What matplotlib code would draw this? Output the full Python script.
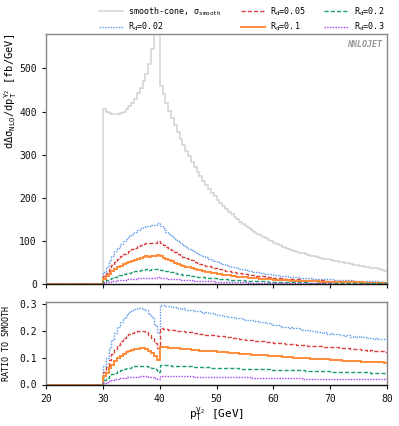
import numpy as np
import matplotlib
matplotlib.use("Agg")
import matplotlib.pyplot as plt

plt.rcParams['font.family'] = ['DejaVu Sans Mono']
plt.rcParams['mathtext.fontset'] = 'custom'
plt.rcParams['mathtext.rm'] = 'DejaVu Sans Mono'
plt.rcParams['mathtext.it'] = 'DejaVu Sans Mono:italic'
plt.rcParams['mathtext.default'] = 'regular'

# ---- data (0.5 GeV bins from 30 to 80; zero below 30) ----
bin_width = 0.5
pt_low, pt_start, pt_high = 20.0, 30.0, 80.0

smooth = [
    405, 400, 397, 395, 394, 395, 397, 400, 405, 412,
    420, 430, 442, 455, 470, 488, 510, 545, 620, 740,
    460, 440, 420, 402, 385, 368, 352, 337, 322, 309,
    296, 284, 272, 261, 250, 240, 230, 221, 212, 204,
    196, 188, 181, 174, 168, 162, 156, 150, 145, 140,
    134, 130, 125, 121, 117, 113, 109, 106, 102, 99,
    95, 92, 90, 87, 84, 82, 79, 77, 75, 73,
    71, 69, 67, 65, 64, 62, 61, 59, 58, 57,
    56, 54, 53, 51, 50, 49, 48, 46, 45, 44,
    42, 41, 40, 39, 38, 37, 36, 34, 33, 31,
]

ratio_rd002 = [
    0.070, 0.100, 0.135, 0.165, 0.192, 0.214, 0.232, 0.247, 0.259, 0.268,
    0.275, 0.279, 0.282, 0.283, 0.281, 0.277, 0.262, 0.250, 0.222, 0.190,
    0.295, 0.294, 0.290, 0.290, 0.287, 0.286, 0.285, 0.281, 0.282, 0.278,
    0.277, 0.276, 0.273, 0.272, 0.271, 0.267, 0.268, 0.264, 0.264, 0.261,
    0.258, 0.257, 0.254, 0.254, 0.251, 0.250, 0.247, 0.246, 0.246, 0.242,
    0.241, 0.238, 0.238, 0.235, 0.234, 0.231, 0.232, 0.227, 0.227, 0.224,
    0.221, 0.219, 0.218, 0.215, 0.215, 0.211, 0.212, 0.208, 0.208, 0.205,
    0.204, 0.201, 0.201, 0.198, 0.198, 0.195, 0.195, 0.192, 0.193, 0.189,
    0.190, 0.186, 0.187, 0.184, 0.184, 0.181, 0.182, 0.178, 0.179, 0.176,
    0.179, 0.175, 0.175, 0.172, 0.173, 0.170, 0.171, 0.168, 0.170, 0.167,
]

ratio_rd005 = [
    0.045, 0.066, 0.090, 0.112, 0.131, 0.148, 0.161, 0.172, 0.180, 0.187,
    0.192, 0.196, 0.198, 0.199, 0.198, 0.195, 0.185, 0.174, 0.155, 0.135,
    0.209, 0.207, 0.206, 0.204, 0.203, 0.201, 0.200, 0.198, 0.198, 0.195,
    0.194, 0.193, 0.191, 0.189, 0.189, 0.187, 0.185, 0.185, 0.183, 0.182,
    0.181, 0.179, 0.179, 0.176, 0.175, 0.174, 0.172, 0.171, 0.169, 0.168,
    0.166, 0.166, 0.164, 0.163, 0.163, 0.160, 0.160, 0.158, 0.158, 0.156,
    0.155, 0.155, 0.153, 0.153, 0.151, 0.151, 0.149, 0.149, 0.147, 0.147,
    0.145, 0.145, 0.144, 0.144, 0.142, 0.142, 0.141, 0.141, 0.139, 0.140,
    0.140, 0.138, 0.138, 0.136, 0.136, 0.134, 0.134, 0.132, 0.132, 0.130,
    0.130, 0.128, 0.128, 0.126, 0.127, 0.125, 0.125, 0.123, 0.123, 0.122,
]

ratio_rd01 = [
    0.030, 0.044, 0.060, 0.074, 0.087, 0.098, 0.107, 0.114, 0.120, 0.124,
    0.128, 0.131, 0.133, 0.134, 0.134, 0.132, 0.125, 0.118, 0.105, 0.090,
    0.140, 0.139, 0.138, 0.137, 0.136, 0.135, 0.134, 0.133, 0.132, 0.131,
    0.130, 0.129, 0.128, 0.127, 0.126, 0.125, 0.125, 0.124, 0.123, 0.123,
    0.122, 0.121, 0.120, 0.119, 0.118, 0.117, 0.116, 0.115, 0.114, 0.113,
    0.113, 0.112, 0.111, 0.110, 0.110, 0.109, 0.108, 0.108, 0.107, 0.106,
    0.106, 0.105, 0.104, 0.103, 0.103, 0.102, 0.101, 0.100, 0.100, 0.099,
    0.098, 0.098, 0.097, 0.096, 0.096, 0.095, 0.094, 0.094, 0.093, 0.093,
    0.092, 0.091, 0.090, 0.090, 0.089, 0.088, 0.088, 0.087, 0.087, 0.086,
    0.086, 0.085, 0.085, 0.084, 0.084, 0.083, 0.083, 0.082, 0.082, 0.081,
]

ratio_rd02 = [
    0.015, 0.023, 0.031, 0.038, 0.044, 0.050, 0.054, 0.058, 0.061, 0.063,
    0.066, 0.068, 0.069, 0.070, 0.070, 0.069, 0.065, 0.062, 0.056, 0.048,
    0.072, 0.072, 0.071, 0.071, 0.070, 0.070, 0.069, 0.069, 0.068, 0.068,
    0.067, 0.067, 0.066, 0.066, 0.065, 0.065, 0.064, 0.064, 0.063, 0.063,
    0.063, 0.062, 0.062, 0.061, 0.061, 0.060, 0.060, 0.060, 0.059, 0.059,
    0.058, 0.058, 0.058, 0.057, 0.057, 0.057, 0.056, 0.056, 0.056, 0.055,
    0.055, 0.055, 0.054, 0.054, 0.054, 0.053, 0.053, 0.053, 0.052, 0.052,
    0.052, 0.051, 0.051, 0.051, 0.050, 0.050, 0.050, 0.049, 0.049, 0.049,
    0.048, 0.048, 0.048, 0.047, 0.047, 0.047, 0.047, 0.046, 0.046, 0.046,
    0.045, 0.045, 0.045, 0.045, 0.044, 0.044, 0.044, 0.044, 0.043, 0.043,
]

ratio_rd03 = [
    0.006, 0.009, 0.013, 0.016, 0.019, 0.021, 0.023, 0.025, 0.026, 0.027,
    0.028, 0.029, 0.029, 0.030, 0.030, 0.030, 0.028, 0.027, 0.024, 0.021,
    0.032, 0.032, 0.032, 0.031, 0.031, 0.031, 0.031, 0.030, 0.030, 0.030,
    0.030, 0.030, 0.029, 0.029, 0.029, 0.029, 0.029, 0.028, 0.028, 0.028,
    0.028, 0.028, 0.027, 0.027, 0.027, 0.027, 0.027, 0.026, 0.026, 0.026,
    0.026, 0.026, 0.025, 0.025, 0.025, 0.025, 0.025, 0.025, 0.024, 0.024,
    0.024, 0.024, 0.024, 0.024, 0.023, 0.023, 0.023, 0.023, 0.023, 0.023,
    0.022, 0.022, 0.022, 0.022, 0.022, 0.022, 0.021, 0.021, 0.021, 0.021,
    0.021, 0.021, 0.021, 0.020, 0.020, 0.020, 0.020, 0.020, 0.020, 0.020,
    0.020, 0.020, 0.019, 0.019, 0.019, 0.019, 0.019, 0.019, 0.019, 0.019,
]

rd_labels = ["0.02", "0.05", "0.1", "0.2", "0.3"]
rd_colors = ["#5a9ae6", "#d9413f", "#ff8c3a", "#1e9e6e", "#a23ff0"]
rd_styles = [(0, (1, 1)), (0, (3, 1.5)), "-", (0, (3, 1.5)), (0, (1, 1))]
rd_widths = [1.0, 1.0, 1.4, 1.0, 1.0]
ratios = [ratio_rd002, ratio_rd005, ratio_rd01, ratio_rd02, ratio_rd03]

# ---- build histograms ----
edges = np.arange(pt_low, pt_high + bin_width / 2, bin_width)
n_zero = int(round((pt_start - pt_low) / bin_width))
pad = np.zeros(n_zero)
smooth_full = np.concatenate([pad, np.array(smooth, float)])

fig = plt.figure(figsize=(3.99, 4.26), dpi=100)
W, H = 399, 426
ax1 = fig.add_axes([46 / W, 1 - 284 / H, (387 - 46) / W, (284 - 34) / H])
ax2 = fig.add_axes([46 / W, 1 - 384.5 / H, (387 - 46) / W, (384.5 - 302) / H])

spine_col = "#888888"
for ax in (ax1, ax2):
    for s in ax.spines.values():
        s.set_color(spine_col)
        s.set_linewidth(1.0)
    ax.spines["bottom"].set_color("#111111")
    ax.tick_params(direction="out", length=3, width=0.8, labelsize=7, colors="#111111")

handles = []
h = ax1.stairs(smooth_full, edges, color="#d2d2d2", lw=1.1, baseline=None,
               label=r"smooth-cone, σ$_{\mathrm{smooth}}$", zorder=1)
handles.append(h)
for r, lab, c, ls, lw in zip(ratios, rd_labels, rd_colors, rd_styles, rd_widths):
    rfull = np.concatenate([pad, np.array(r, float)])
    vals = rfull * smooth_full
    h = ax1.stairs(vals, edges, color=c, ls=ls, lw=lw, baseline=None,
                   label=r"R$_{\mathrm{d}}$=" + lab, zorder=2)
    handles.append(h)
    ax2.stairs(rfull, edges, color=c, ls=ls, lw=lw, baseline=None, zorder=2)

ax1.set_xlim(pt_low, pt_high)
ax1.set_ylim(0, 580)
ax1.set_yticks([0, 100, 200, 300, 400, 500])
ax1.set_xticks([20, 30, 40, 50, 60, 70, 80])
ax1.tick_params(axis="x", labelbottom=False)
ax1.set_ylabel(r"dΔσ$_{\mathrm{NLO}}$/dp$_{\mathrm{T}}^{\mathrm{\gamma_2}}$ [fb/GeV]",
               fontsize=7.5, loc="top")
ax1.yaxis.set_label_coords(-0.08, 1.0)
ax1.text(0.985, 0.975, "NNLOJET", transform=ax1.transAxes, ha="right", va="top",
         fontsize=6, color="#999999", fontstyle="italic", fontweight="bold")

ax2.set_xlim(pt_low, pt_high)
ax2.set_ylim(0, 0.306)
ax2.set_yticks([0.0, 0.1, 0.2, 0.3])
ax2.set_yticklabels(["0.0", "0.1", "0.2", "0.3"])
ax2.set_xticks([20, 30, 40, 50, 60, 70, 80])
ax2.set_ylabel("RATIO TO SMOOTH", fontsize=6, labelpad=6)
ax2.set_xlabel(r"p$_{\mathrm{T}}^{\mathrm{\gamma_2}}$ [GeV]", fontsize=8, labelpad=2)

leg = ax1.legend(handles=handles, ncol=3, loc="lower right",
                 bbox_to_anchor=(1.005, 0.985), frameon=False, fontsize=6,
                 handlelength=2.9, columnspacing=2.3, handletextpad=0.6,
                 labelspacing=0.35, borderaxespad=0.15)

fig.savefig("out.png", dpi=100)
